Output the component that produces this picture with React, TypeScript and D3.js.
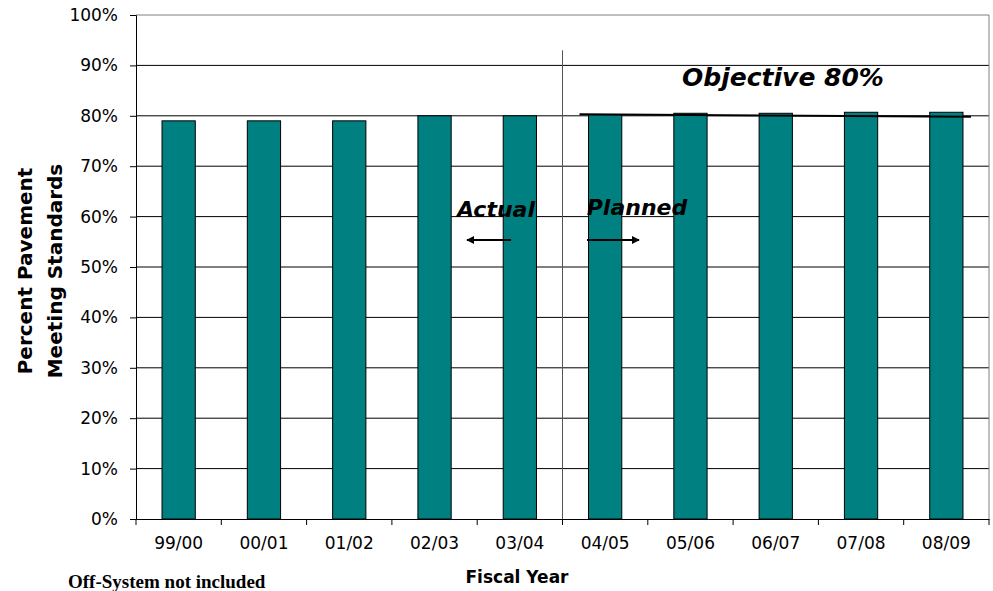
import { useEffect, useRef } from 'react'
import * as d3 from 'd3'

const years = ['99/00', '00/01', '01/02', '02/03', '03/04', '04/05', '05/06', '06/07', '07/08', '08/09']
const percents = [79, 79, 79, 80, 80, 80.2, 80.5, 80.5, 80.7, 80.7]
const yTicks = [0, 10, 20, 30, 40, 50, 60, 70, 80, 90, 100]
const objectiveLine = [80.3, 79.8]

export default function App() {
  const ref = useRef<SVGSVGElement | null>(null)

  useEffect(() => {
    const svg = d3.select(ref.current)
    svg.selectAll('*').remove()

    const margin = { top: 15, right: 4, bottom: 72, left: 136 }
    const width = 993 - margin.left - margin.right
    const height = 591 - margin.top - margin.bottom
    const sans = '"DejaVu Sans", Verdana, sans-serif'

    const chart = svg.append('g').attr('transform', `translate(${margin.left},${margin.top})`)

    const x = d3.scaleBand().domain(years).range([0, width]).paddingInner(0).paddingOuter(0)
    const y = d3.scaleLinear().domain([0, 100]).range([height, 0])
    const barW = x.bandwidth() * 0.39

    // * gridlines
    chart.selectAll('.grid')
      .data(yTicks.slice(1, -1))
      .enter()
      .append('line')
      .attr('x1', 0).attr('x2', width)
      .attr('y1', (d) => y(d)).attr('y2', (d) => y(d))
      .attr('stroke', '#000').attr('stroke-width', 1)

    // * grey frame top + right
    chart.append('line').attr('x1', 0).attr('x2', width).attr('y1', 0).attr('y2', 0).attr('stroke', '#808080')
    chart.append('line').attr('x1', width).attr('x2', width).attr('y1', 0).attr('y2', height).attr('stroke', '#808080')

    // * actual / planned divider
    chart.append('line')
      .attr('x1', x('04/05')!).attr('x2', x('04/05')!)
      .attr('y1', y(93)).attr('y2', height)
      .attr('stroke', '#555').attr('stroke-width', 1)

    // * bars
    chart.selectAll('.bar')
      .data(years)
      .enter()
      .append('rect')
      .attr('class', 'bar')
      .attr('x', (d) => x(d)! + (x.bandwidth() - barW) / 2)
      .attr('y', (d, i) => y(percents[i]))
      .attr('width', barW)
      .attr('height', (d, i) => height - y(percents[i]))
      .attr('fill', '#008080')
      .attr('stroke', '#000')
      .attr('stroke-width', 1)

    // * objective line
    chart.append('line')
      .attr('x1', x('04/05')! + 17).attr('x2', width - 18)
      .attr('y1', y(objectiveLine[0])).attr('y2', y(objectiveLine[1]))
      .attr('stroke', '#000').attr('stroke-width', 2)

    // * axes
    const yAxis = chart.append('g')
      .call(d3.axisLeft(y).tickValues(yTicks).tickSize(6).tickFormat((d) => `${d}%`))
    yAxis.select('.domain').attr('stroke', '#000')
    yAxis.selectAll('text')
      .attr('font-family', sans)
      .attr('font-size', 17).attr('fill', '#000').attr('x', -18)

    const xAxis = chart.append('g')
      .attr('transform', `translate(0,${height})`)
      .call(d3.axisBottom(x).tickSize(0).tickSizeOuter(0))
    xAxis.select('.domain').attr('stroke', '#000')
    xAxis.selectAll('text')
      .attr('font-family', sans)
      .attr('font-size', 17).attr('fill', '#000').attr('dy', 0).attr('y', 30)
    chart.append('g')
      .selectAll('line')
      .data(d3.range(years.length + 1))
      .enter()
      .append('line')
      .attr('x1', (i) => i * x.step()).attr('x2', (i) => i * x.step())
      .attr('y1', height).attr('y2', height + 6)
      .attr('stroke', '#000')

    // * annotations
    svg.append('text').attr('x', 783).attr('y', 86).attr('text-anchor', 'middle')
      .attr('font-family', sans).attr('font-weight', 'bold').attr('font-style', 'italic').attr('font-size', 25)
      .text('Objective 80%')
    svg.append('text').attr('x', 496).attr('y', 217).attr('text-anchor', 'middle')
      .attr('font-family', sans).attr('font-weight', 'bold').attr('font-style', 'italic').attr('font-size', 22)
      .text('Actual')
    svg.append('text').attr('x', 637).attr('y', 215).attr('text-anchor', 'middle')
      .attr('font-family', sans).attr('font-weight', 'bold').attr('font-style', 'italic').attr('font-size', 22)
      .text('Planned')

    const defs = svg.append('defs')
    defs.append('marker').attr('id', 'arr').attr('viewBox', '0 0 10 10').attr('refX', 9).attr('refY', 5)
      .attr('markerWidth', 8).attr('markerHeight', 8).attr('markerUnits', 'userSpaceOnUse').attr('orient', 'auto')
      .append('path').attr('d', 'M0,0 L10,5 L0,10 z').attr('fill', '#000')
    svg.append('line').attr('x1', 511).attr('x2', 467).attr('y1', 240).attr('y2', 240)
      .attr('stroke', '#000').attr('stroke-width', 2).attr('marker-end', 'url(#arr)')
    svg.append('line').attr('x1', 587).attr('x2', 639).attr('y1', 240).attr('y2', 240)
      .attr('stroke', '#000').attr('stroke-width', 2).attr('marker-end', 'url(#arr)')

    // * axis titles
    const yt = svg.append('text').attr('transform', 'translate(32,271) rotate(-90)').attr('text-anchor', 'middle')
      .attr('font-family', sans).attr('font-weight', 'bold').attr('font-size', 20)
    yt.append('tspan').attr('x', 0).attr('dy', 0).text('Percent Pavement')
    yt.append('tspan').attr('x', 0).attr('dy', 30).text('Meeting Standards')

    svg.append('text').attr('x', 517).attr('y', 583).attr('text-anchor', 'middle')
      .attr('font-family', sans).attr('font-weight', 'bold').attr('font-size', 17)
      .text('Fiscal Year')
    svg.append('text').attr('x', 68).attr('y', 588)
      .attr('font-family', '"Times New Roman", "Liberation Serif", serif').attr('font-weight', 'bold').attr('font-size', 19)
      .text('Off-System not included')
  }, [])

  return (
    <svg ref={ref} width={993} height={591} style={{ position: 'absolute', left: 0, top: 0, background: '#fff' }} />
  )
}
